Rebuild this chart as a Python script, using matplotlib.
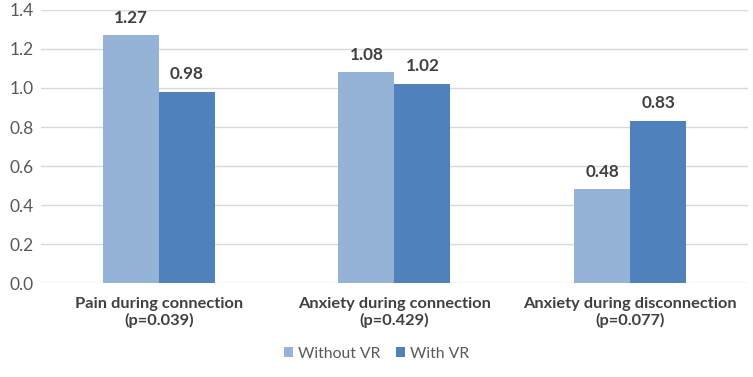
import matplotlib
matplotlib.use("Agg")
import matplotlib.pyplot as plt
import numpy as np

categories = ["Pain during connection\n(p=0.039)",
              "Anxiety during connection\n(p=0.429)",
              "Anxiety during disconnection\n(p=0.077)"]
without_vr = [1.27, 1.08, 0.48]
with_vr = [0.98, 1.02, 0.83]
series_names = ["Without VR", "With VR"]
yticks = [0.0, 0.2, 0.4, 0.6, 0.8, 1.0, 1.2, 1.4]

plt.rcParams['font.family'] = ['Lato', 'DejaVu Sans']

fig = plt.figure(figsize=(7.53, 3.77), dpi=100)
ax = fig.add_axes([0.0544, 0.2493, 0.939, 0.7242])

x = np.arange(len(categories))
w = 0.2376
b1 = ax.bar(x - w / 2, without_vr, w, color='#95B3D7', label=series_names[0], zorder=2)
b2 = ax.bar(x + w / 2, with_vr, w, color='#4F81BD', label=series_names[1], zorder=2)

for bars in (b1, b2):
    for rect in bars:
        h = rect.get_height()
        ax.text(rect.get_x() + rect.get_width() / 2, h + 0.05, f"{h:.2f}",
                ha='center', va='bottom', fontsize=12.3, fontweight='bold', color='#404040')

ax.set_xlim(-0.5, len(categories) - 0.5)
ax.set_ylim(0, 1.4)
ax.set_yticks(yticks)
ax.set_yticklabels([f"{t:.1f}" for t in yticks])
ax.set_xticks(x)
ax.set_xticklabels(categories, fontsize=11.8, fontweight='bold', color='#404040', linespacing=1.2)
ax.tick_params(axis='y', length=0, labelsize=12.5, labelcolor='#595959', pad=5)
ax.tick_params(axis='x', length=0, pad=10)
ax.grid(axis='y', color='#D9D9D9', linewidth=1, zorder=0)
for s in ax.spines.values():
    s.set_visible(False)

fig.legend(loc='lower center', bbox_to_anchor=(0.5, 0.005), ncol=2, frameon=False,
           fontsize=11.3, handlelength=0.6, handleheight=0.6, handletextpad=0.3,
           columnspacing=1.0, labelcolor='#595959')

fig.savefig("out.png", dpi=100)
